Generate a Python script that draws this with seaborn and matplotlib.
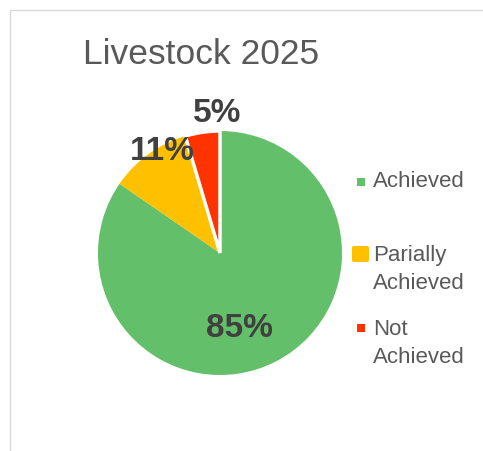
import matplotlib.pyplot as plt
import seaborn as sns
from matplotlib.patches import Rectangle, FancyBboxPatch

# data
categories = ["Achieved", "Parially\nAchieved", "Not\nAchieved"]
shares = [84.6, 10.8, 4.6]
pct_labels = ["85%", "11%", "5%"]
colors = ["#63BF6A", "#FFC000", "#FF3300"]

sns.set_theme(style="white")
plt.rcParams['font.family'] = ['Liberation Sans', 'DejaVu Sans']

W, H = 483, 451
fig = plt.figure(figsize=(W / 100, H / 100), dpi=100)

# pie axes: center (220,253) px, radius 122 px
cx, cy, r = 220, 253, 122
ax = fig.add_axes([(cx - r) / W, (H - cy - r) / H, 2 * r / W, 2 * r / H])
wedges, _ = ax.pie(shares, colors=colors, startangle=90, counterclock=False,
                   radius=1, wedgeprops=dict(linewidth=0))
wedges[2].set_edgecolor("white")
wedges[2].set_linewidth(2.5)
ax.set_xlim(-1, 1)
ax.set_ylim(-1, 1)
ax.set_aspect("equal")
ax.axis("off")

# percent labels (best-fit style positions)
label_xy = [(0.16, -0.62), (-0.47, 0.83), (-0.02, 1.14)]
for txt, (x, y) in zip(pct_labels, label_xy):
    ax.text(x, y, txt, ha="center", va="center", fontsize=24,
            fontweight="bold", color="#404040", clip_on=False)

# title
fig.text(83 / W, 1 - 64 / H, "Livestock 2025", ha="left", va="baseline",
         fontsize=25.5, color="#595959")

# legend drawn by hand (Excel-like spacing)
marker_box = [(357, 178, 8, 8, False), (352, 246, 17, 16, True), (357, 324, 8, 8, False)]
baselines = [187, 261, 335]
for cat, col, (mx, my, mw, mh, rounded), base in zip(categories, colors, marker_box, baselines):
    if rounded:
        p = FancyBboxPatch((mx / W, 1 - (my + mh) / H), mw / W, mh / H,
                           boxstyle="round,pad=0,rounding_size=0.004",
                           transform=fig.transFigure, facecolor=col, edgecolor="none")
    else:
        p = Rectangle((mx / W, 1 - (my + mh) / H), mw / W, mh / H,
                      transform=fig.transFigure, facecolor=col, edgecolor="none")
    fig.patches.append(p)
    for i, line in enumerate(cat.split("\n")):
        fig.text(373 / W, 1 - (base + 28 * i) / H, line, ha="left", va="baseline",
                 fontsize=16, color="#595959")

# chart area border (left and top edges visible)
fig.patches.append(Rectangle((9.5 / W, -0.05), 1.2, 1 - 9.5 / H + 0.05,
                             transform=fig.transFigure, facecolor="none",
                             edgecolor="#D9D9D9", linewidth=1))

fig.savefig("out.png", dpi=100)
